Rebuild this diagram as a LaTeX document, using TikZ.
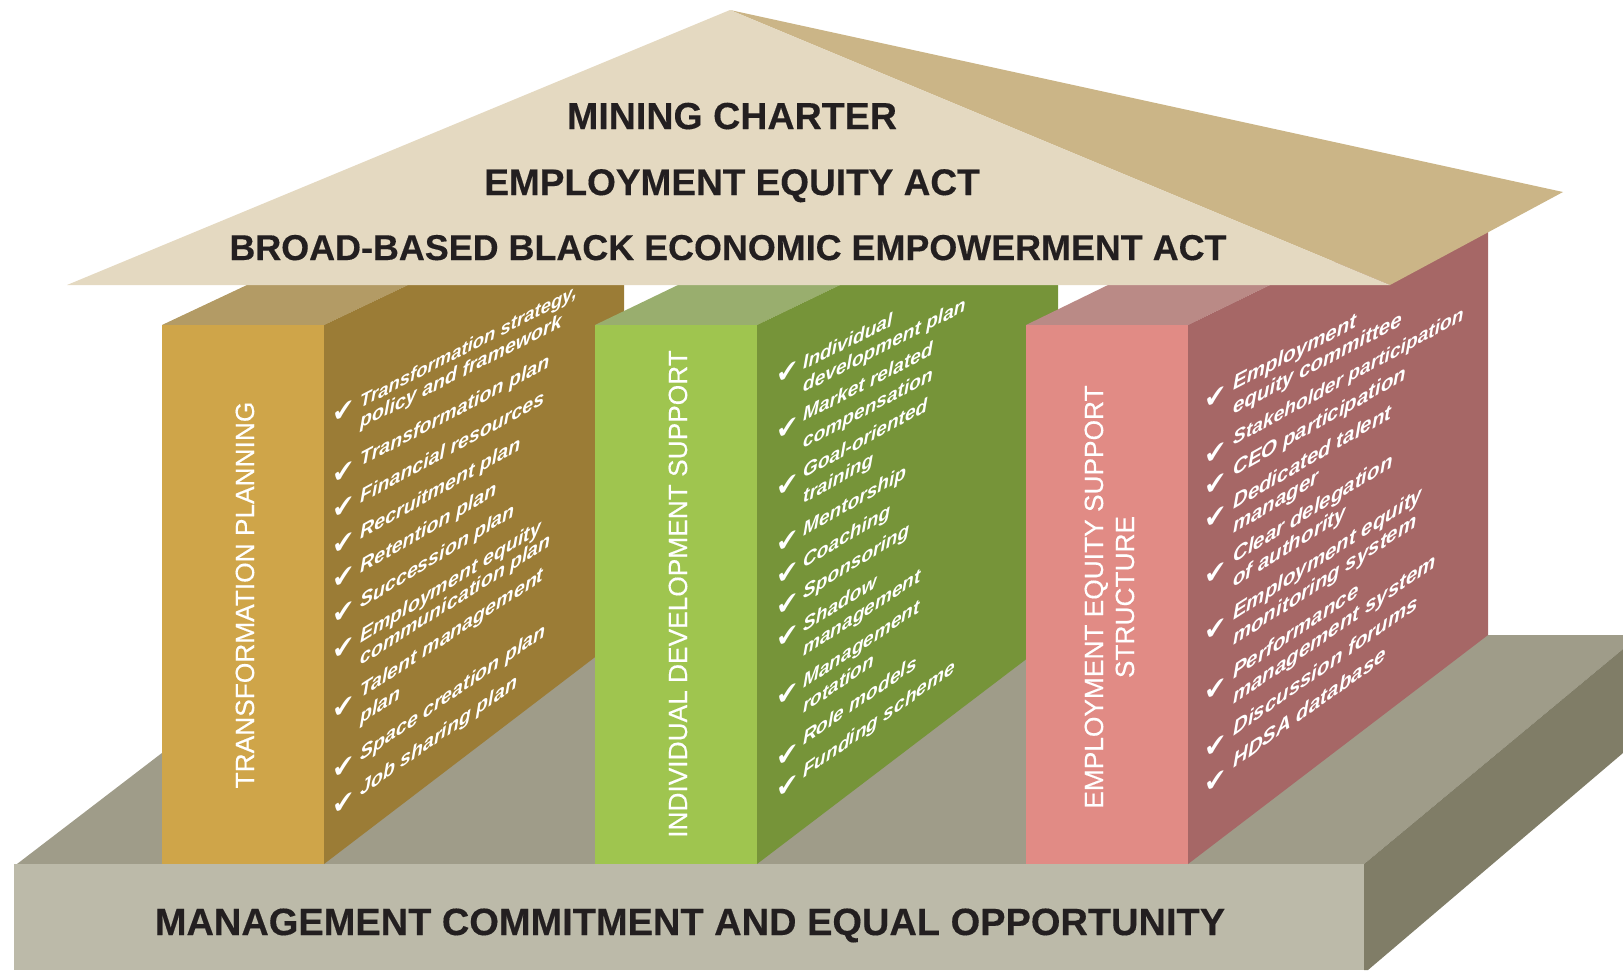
\documentclass[tikz,border=0pt]{standalone}
\usepackage{fontspec}
\setmainfont{Liberation Sans}
\newfontfamily\chkfont{DejaVu Sans}
\newfontfamily\frontfont[FakeBold=0.35]{Liberation Sans}
\newfontfamily\titlefont[BoldFeatures={FakeBold=0.3}]{Liberation Sans}
\definecolor{roofF}{HTML}{E4D9C1}
\definecolor{roofS}{HTML}{CBB587}
\definecolor{baseF}{HTML}{BCBAA9}
\definecolor{baseT}{HTML}{9F9C89}
\definecolor{baseS}{HTML}{807D67}
\definecolor{aF}{HTML}{CFA549}
\definecolor{aS}{HTML}{9B7C36}
\definecolor{aT}{HTML}{B39B65}
\definecolor{bF}{HTML}{9FC54F}
\definecolor{bS}{HTML}{769439}
\definecolor{bT}{HTML}{99AE6E}
\definecolor{cF}{HTML}{E18B85}
\definecolor{cS}{HTML}{A66766}
\definecolor{cT}{HTML}{BA8A86}
\definecolor{ink}{HTML}{231F20}
\newcommand{\sidesize}{19.6}
\newcommand{\slbase}{0.44}
\tikzset{
  sidetext/.style={anchor=base west,inner sep=0pt,text=white,yslant=#1,transform shape,
    font=\fontsize{\sidesize}{\sidesize}\selectfont\bfseries\itshape},
  chk/.style={anchor=center,inner sep=0pt,text=white,yslant=0.3,transform shape,
    font=\fontsize{27}{27}\selectfont\chkfont},
  fronttext/.style={anchor=base,inner sep=0pt,text=white,rotate=90,
    font=\fontsize{26.3}{26.3}\selectfont\frontfont},
  title/.style={anchor=base,inner sep=0pt,text=ink,
    font=\fontsize{#1}{#1}\selectfont\titlefont\bfseries}
}
% name, x, y, distance from the pillar's front edge, text
\newcommand{\sideline}[5]{%
  \pgfmathsetmacro{\slantval}{\slbase+0.000519*(#3+0.6*#4-325)}%
  \node[sidetext=\slantval] (#1) at (#2,#3) {#5};}
\begin{document}
\begin{tikzpicture}[x=1pt,y=-1pt]
\useasboundingbox (0,0) rectangle (1623,970);
% base
\fill[baseT] (17,864) -- (316,635) -- (1623,635) -- (1623,649) -- (1364,864) -- cycle;
\fill[baseS] (1364,864) -- (1623,649) -- (1623,753) -- (1368,970) -- (1364,970) -- cycle;
\fill[baseF] (13.5,864) rectangle (1364,970);
% pillar 1
\fill[aT] (162,325) -- (247,285) -- (408,285) -- (324,325) -- cycle;
\fill[aS] (324,325) -- (408,285) -- (624,285) -- (624,635) -- (324,864) -- cycle;
\fill[aF] (162,325) rectangle (324,864);
% pillar 2
\fill[bT] (595,325) -- (678,285) -- (840,285) -- (757,325) -- cycle;
\fill[bS] (757,325) -- (840,285) -- (1058,285) -- (1058,635) -- (757,864) -- cycle;
\fill[bF] (595,325) rectangle (757,864);
% pillar 3
\fill[cT] (1026,325) -- (1108,285) -- (1270,285) -- (1188,325) -- cycle;
\fill[cS] (1188,325) -- (1270,285) -- (1488,205) -- (1488,635) -- (1188,864) -- cycle;
\fill[cF] (1026,325) rectangle (1188,864);
% roof
\fill[roofS] (730,10) -- (1563,192) -- (1390,285) -- cycle;
\fill[roofF] (730,10) -- (1390,285) -- (67,285) -- cycle;
% titles
\node[title=37.6] (mc) at (732,129) {MINING CHARTER};
\node[title=37] (ee) at (732,195) {EMPLOYMENT EQUITY ACT};
\node[title=35.9] (bb) at (728,260) {BROAD-BASED BLACK ECONOMIC EMPOWERMENT ACT};
\node[title=38] (mg) at (690,935) {MANAGEMENT COMMITMENT AND EQUAL OPPORTUNITY};
% front labels
\node[fronttext] (fa) at (254,595) {TRANSFORMATION PLANNING};
\node[fronttext] (fb) at (687,594) {INDIVIDUAL DEVELOPMENT SUPPORT};
\node[fronttext] (fc1) at (1103,597) {EMPLOYMENT EQUITY SUPPORT};
\node[fronttext] (fc2) at (1134,597) {STRUCTURE};
% column 1
\foreach \n/\y in {1/412,2/473,3/508,4/544,5/578,6/612.5,7/649,8/708,9/767.5,10/804}
  \node[chk] (ca\n) at (344,\y) {✔};
{\renewcommand{\sidesize}{18.5}\renewcommand{\slbase}{0.46}\sideline{ta1}{360}{408.5}{38}{Transformation strategy,}}
\sideline{ta2}{360}{429}{38}{policy and framework}
\sideline{ta3}{360}{467}{38}{Transformation plan}
\sideline{ta4}{360}{504}{38}{Financial resources}
\sideline{ta5}{360}{540}{38}{Recruitment plan}
\sideline{ta6}{360}{574}{38}{Retention plan}
\sideline{ta7}{360}{609}{38}{Succession plan}
\sideline{ta8}{360}{644}{38}{Employment equity}
\sideline{ta9}{360}{666}{38}{communication plan}
\sideline{ta10}{360}{699}{38}{Talent management}
\sideline{ta11}{360}{725}{38}{plan}
\sideline{ta12}{360}{762}{38}{Space creation plan}
\sideline{ta13}{360}{797}{38}{Job sharing plan}
% column 2
\renewcommand{\sidesize}{19.1}
\renewcommand{\slbase}{0.455}
\foreach \n/\y in {1/372.5,2/429,3/486,4/542,5/574,6/605,7/637,8/695,9/756,10/787}
  \node[chk] (cb\n) at (788,\y) {✔};
\sideline{tb1}{803}{370}{46}{Individual}
\sideline{tb2}{803}{393}{46}{development plan}
\sideline{tb3}{803}{422}{46}{Market related}
\sideline{tb4}{803}{449}{46}{compensation}
\sideline{tb5}{803}{479}{46}{Goal-oriented}
\sideline{tb6}{803}{504}{46}{training}
\sideline{tb7}{803}{537}{46}{Mentorship}
\sideline{tb8}{803}{568.5}{46}{Coaching}
\sideline{tb9}{803}{600}{46}{Sponsoring}
\sideline{tb10}{803}{633}{46}{Shadow}
\sideline{tb11}{803}{657}{46}{management}
\sideline{tb12}{803}{689}{46}{Management}
\sideline{tb13}{803}{714}{46}{rotation}
\sideline{tb14}{803}{746}{46}{Role models}
\sideline{tb15}{803}{779}{46}{Funding scheme}
% column 3
\renewcommand{\sidesize}{20.5}
\renewcommand{\slbase}{0.47}
\foreach \n/\y in {1/398,2/454,3/485,4/518,5/574,6/630,7/690,8/747,9/782}
  \node[chk] (cc\n) at (1216,\y) {✔};
\sideline{tc1}{1233}{391}{45}{Employment}
\sideline{tc2}{1233}{415}{45}{equity committee}
{\renewcommand{\sidesize}{19.2}\sideline{tc3}{1233}{446}{45}{Stakeholder participation}}
\sideline{tc4}{1233}{477}{45}{CEO participation}
\sideline{tc5}{1233}{510}{45}{Dedicated talent}
\sideline{tc6}{1233}{534}{45}{manager}
\sideline{tc7}{1233}{564}{45}{Clear delegation}
\sideline{tc8}{1233}{588}{45}{of authority}
\sideline{tc9}{1233}{621}{45}{Employment equity}
\sideline{tc10}{1233}{646}{45}{monitoring system}
\sideline{tc11}{1233}{680}{45}{Performance}
\sideline{tc12}{1233}{705}{45}{management system}
\sideline{tc13}{1233}{737}{45}{Discussion forums}
\sideline{tc14}{1233}{769}{45}{HDSA database}
\end{tikzpicture}
\end{document}
